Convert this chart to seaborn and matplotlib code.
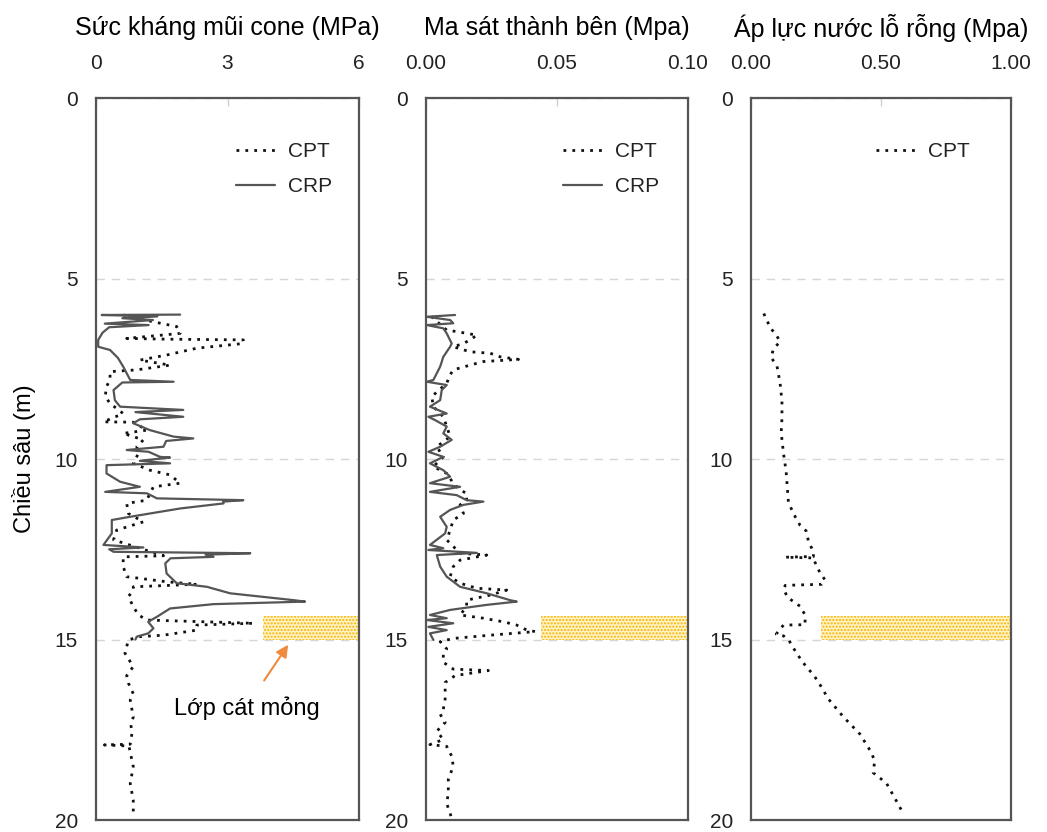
import numpy as np
import pandas as pd
import matplotlib
matplotlib.use("Agg")
import matplotlib.pyplot as plt
import seaborn as sns

# ---------------- data ----------------
# Panel 1: cone tip resistance (MPa) vs depth (m)
crp_qc_depth = [6.00, 6.01, 6.05, 6.10, 6.15, 6.25, 6.29, 6.35, 6.50, 6.70, 6.89, 6.98, 7.20, 7.44,
                7.81, 7.86, 7.88, 8.09, 8.37, 8.55, 8.64, 8.70, 8.83, 8.90, 9.01, 9.20, 9.38, 9.43,
                9.50, 9.66, 9.75, 9.80, 9.94, 9.96, 10.05, 10.12, 10.17, 10.40, 10.63, 10.77, 10.91,
                10.95, 11.09, 11.14, 11.18, 11.23, 11.37, 11.60, 11.69, 12.06, 12.38, 12.45, 12.50,
                12.57, 12.61, 12.65, 12.71, 12.75, 12.89, 13.17, 13.44, 13.54, 13.72, 13.91, 13.95,
                14.02, 14.14, 14.37, 14.51, 14.69, 14.83, 14.92, 15.00]
crp_qc = [1.92, 0.13, 1.40, 0.60, 1.30, 0.20, 1.20, 0.30, 0.15, 0.05, 0.05, 0.32, 0.50, 0.62,
          0.78, 1.77, 0.60, 0.40, 0.43, 0.55, 1.99, 0.90, 1.99, 1.00, 0.85, 1.23, 1.77, 2.22,
          1.60, 1.54, 0.70, 1.20, 1.46, 1.69, 1.00, 1.69, 0.24, 0.24, 0.55, 1.00, 0.21,
          1.16, 1.39, 3.36, 2.90, 2.91, 1.92, 0.78, 0.36, 0.36, 0.17, 1.08, 0.30,
          0.40, 3.52, 2.50, 2.68, 1.70, 1.58, 1.61, 1.84, 2.53, 3.06, 4.51, 4.77,
          2.68, 1.69, 1.39, 1.19, 1.31, 1.19, 0.93, 0.90]

cpt_qc_depth = [6.01, 6.20, 6.33, 6.52, 6.66, 6.68, 6.70, 6.80, 6.93, 7.12, 7.26, 7.40, 7.53, 7.58,
                7.81, 7.99, 8.27, 8.46, 8.74, 8.97, 8.98, 9.20, 9.29, 9.47, 9.66, 9.84, 10.12,
                10.31, 10.44, 10.67, 10.77, 10.95, 11.14, 11.23, 11.51, 11.74, 11.97, 12.24, 12.68,
                12.71, 12.98, 13.26, 13.40, 13.47, 13.54, 13.63, 13.81, 14.09, 14.32, 14.46, 14.55,
                14.60, 14.74, 14.88, 14.92, 15.01, 15.38, 15.75, 16.00, 16.21, 16.50, 16.68, 17.14,
                17.40, 17.60, 17.90, 17.92, 17.95, 18.52, 18.99, 19.45, 19.82]
cpt_qc = [0.62, 1.31, 1.84, 1.92, 0.70, 1.61, 3.36, 3.36, 2.30, 1.61, 1.00, 1.69, 0.93, 0.32,
          0.32, 0.24, 0.21, 0.32, 0.62, 0.17, 0.85, 1.16, 0.62, 1.08, 0.93, 0.97, 0.85,
          1.23, 1.69, 1.92, 1.31, 1.23, 1.16, 0.70, 0.74, 1.08, 0.47, 0.40, 1.54,
          0.62, 0.62, 0.70, 1.61, 2.30, 0.85, 0.85, 0.74, 0.85, 0.97, 1.16, 3.59,
          2.30, 2.30, 1.54, 1.00, 0.74, 0.66, 0.85, 0.70, 0.74, 0.85, 0.78, 0.85,
          0.80, 0.82, 0.78, 0.19, 0.75, 0.85, 0.78, 0.85, 0.85]

# Panel 2: sleeve friction (MPa) vs depth (m)
crp_fs_depth = [6.01, 6.06, 6.15, 6.24, 6.29, 6.38, 6.52, 6.80, 6.89, 7.17, 7.44, 7.81, 7.86, 7.95,
                8.09, 8.37, 8.55, 8.74, 8.83, 8.92, 9.10, 9.29, 9.47, 9.66, 9.80, 9.94, 10.12,
                10.31, 10.49, 10.67, 10.77, 10.91, 11.00, 11.14, 11.18, 11.27, 11.41, 11.60, 11.88,
                12.06, 12.38, 12.47, 12.52, 12.60, 12.66, 12.98, 13.26, 13.54, 13.72, 13.91, 13.95,
                14.04, 14.18, 14.32, 14.41, 14.46, 14.55, 14.65, 14.74, 14.83, 15.01]
crp_fs = [0.0111, 0.0003, 0.0092, 0.0104, 0.0003, 0.0066, 0.0079, 0.0098, 0.0092, 0.0066, 0.0054,
          0.0028, 0.0003, 0.0079, 0.0060, 0.0054, 0.0015, 0.0079, 0.0009, 0.0034, 0.0079, 0.0066,
          0.0098, 0.0054, 0.0009, 0.0066, 0.0015, 0.0066, 0.0092, 0.0015, 0.0130, 0.0015, 0.0117,
          0.0155, 0.0219, 0.0143, 0.0092, 0.0054, 0.0079, 0.0073, 0.0015, 0.0066, 0.0009, 0.0194,
          0.0041, 0.0054, 0.0079, 0.0130, 0.0232, 0.0321, 0.0346, 0.0232, 0.0092, 0.0015, 0.0079,
          0.0003, 0.0104, 0.0009, 0.0079, 0.0015, 0.0028]

cpt_fs_depth = [6.05, 6.43, 6.47, 6.57, 6.70, 6.80, 6.89, 7.03, 7.07, 7.17, 7.24, 7.30, 7.40, 7.53,
                7.67, 7.90, 8.27, 8.55, 8.83, 9.10, 9.38, 9.66, 9.94, 10.21, 10.40, 10.67, 10.86,
                10.95, 11.14, 11.27, 11.51, 11.69, 11.97, 12.24, 12.61, 12.66, 12.80, 12.98, 13.26,
                13.44, 13.58, 13.63, 13.77, 13.91, 14.09, 14.32, 14.41, 14.51, 14.60, 14.74, 14.78,
                14.88, 14.97, 15.06, 15.26, 15.40, 15.63, 15.82, 15.86, 16.00, 16.19, 16.65, 16.93,
                17.07, 17.30, 17.54, 17.77, 17.91, 17.96, 18.23, 18.51, 18.88, 19.26, 19.54, 19.95]
cpt_fs = [0.0020, 0.0079, 0.0117, 0.0194, 0.0168, 0.0143, 0.0104, 0.0168, 0.0245, 0.0283, 0.0353,
          0.0219, 0.0168, 0.0104, 0.0092, 0.0079, 0.0022, 0.0028, 0.0066, 0.0079, 0.0092, 0.0041,
          0.0066, 0.0028, 0.0079, 0.0104, 0.0130, 0.0155, 0.0155, 0.0130, 0.0143, 0.0104, 0.0092,
          0.0079, 0.0130, 0.0232, 0.0130, 0.0104, 0.0092, 0.0130, 0.0194, 0.0308, 0.0245, 0.0155,
          0.0155, 0.0130, 0.0219, 0.0296, 0.0346, 0.0385, 0.0417, 0.0245, 0.0104, 0.0054, 0.0079,
          0.0066, 0.0066, 0.0104, 0.0238, 0.0111, 0.0073, 0.0073, 0.0066, 0.0054, 0.0073, 0.0041,
          0.0066, 0.0015, 0.0079, 0.0098, 0.0104, 0.0085, 0.0085, 0.0079, 0.0098]

# Panel 3: pore water pressure (MPa) vs depth (m)
cpt_u_depth = [5.97, 6.36, 6.60, 6.75, 6.94, 7.18, 7.43, 7.91, 8.40, 8.88, 9.27, 9.85, 10.34,
               10.83, 11.21, 11.60, 11.84, 11.99, 12.28, 12.57, 12.70, 12.72, 12.74, 12.86, 13.16,
               13.35, 13.47, 13.50, 13.59, 13.83, 14.08, 14.32, 14.59, 14.60, 14.71, 14.85, 14.90,
               15.00, 15.39, 15.78, 15.97, 16.26, 16.65, 17.14, 17.62, 18.06, 18.35, 18.69, 18.98,
               19.47, 19.81]
cpt_u = [0.049, 0.074, 0.100, 0.112, 0.087, 0.077, 0.100, 0.112, 0.119, 0.119, 0.116, 0.125, 0.135,
         0.140, 0.144, 0.170, 0.189, 0.212, 0.221, 0.240, 0.240, 0.132, 0.240, 0.246, 0.266,
         0.285, 0.272, 0.132, 0.125, 0.140, 0.189, 0.208, 0.208, 0.125, 0.112, 0.097, 0.125,
         0.144, 0.176, 0.215, 0.240, 0.266, 0.298, 0.355, 0.419, 0.457, 0.476, 0.470, 0.521,
         0.559, 0.585]

# Thin sand layer
sand_top = 14.35
sand_bottom = 15.0
sand_x_start = [3.8, 0.044, 0.27]

titles = ["Sức kháng mũi cone (MPa)", "Ma sát thành bên (Mpa)", "Áp lực nước lỗ rỗng (Mpa)"]
x_limits = [(0, 6), (0, 0.10), (0, 1.0)]
x_ticks = [[0, 3, 6], [0, 0.05, 0.10], [0, 0.5, 1.0]]
x_ticklabels = [["0", "3", "6"], ["0.00", "0.05", "0.10"], ["0.00", "0.50", "1.00"]]
y_ticks = [0, 5, 10, 15, 20]
y_label = "Chiều sâu (m)"
sand_label = "Lớp cát mỏng"

# ---------------- style ----------------
sns.set_theme(style="white")
plt.rcParams["font.family"] = ["Liberation Sans", "DejaVu Sans"]

fig = plt.figure(figsize=(10.47, 8.32), dpi=100)
axes_rects = [
    [0.0917, 0.0144, 0.2512, 0.8678],
    [0.4069, 0.0144, 0.2502, 0.8678],
    [0.7173, 0.0144, 0.2483, 0.8678],
]
axes = [fig.add_axes(r) for r in axes_rects]

cpt_style = dict(color="#111111", linewidth=2.0, linestyle=(0, (1, 2.2)))
crp_style = dict(color="#555555", linewidth=1.6, linestyle="-")

panels = [
    [(cpt_qc, cpt_qc_depth, "CPT", cpt_style), (crp_qc, crp_qc_depth, "CRP", crp_style)],
    [(cpt_fs, cpt_fs_depth, "CPT", cpt_style), (crp_fs, crp_fs_depth, "CRP", crp_style)],
    [(cpt_u, cpt_u_depth, "CPT", cpt_style)],
]

legend_anchor = [(0.50, 0.950), (0.49, 0.950), (0.45, 0.950)]

for i, ax in enumerate(axes):
    for xs, ds, lab, st in panels[i]:
        df = pd.DataFrame({"x": xs, "depth": ds})
        sns.lineplot(data=df, x="x", y="depth", sort=False, estimator=None,
                     ax=ax, label=lab, **st)
    # sand layer
    ax.fill_betweenx([sand_top, sand_bottom], sand_x_start[i], x_limits[i][1],
                     facecolor="#FFF2C4", edgecolor="#F5B400", hatch=".....", linewidth=0,
                     zorder=1)
    ax.set_xlim(*x_limits[i])
    ax.set_ylim(20, 0)
    ax.xaxis.set_ticks_position("top")
    ax.xaxis.set_label_position("top")
    ax.set_xticks(x_ticks[i])
    ax.set_xticklabels(x_ticklabels[i])
    ax.set_yticks(y_ticks)
    ax.set_yticklabels([str(t) for t in y_ticks])
    ax.tick_params(axis="x", which="both", direction="in", length=6, width=1,
                   color="#d0d0d0", pad=18, labelsize=15, labelcolor="#222222")
    ax.tick_params(axis="y", which="both", length=0, pad=13, labelsize=15,
                   labelcolor="#222222")
    ax.set_xlabel("")
    ax.set_ylabel("")
    ax.yaxis.grid(True, linestyle=(0, (6, 5)), color="#d6d6d6", linewidth=1.0)
    ax.xaxis.grid(False)
    ax.set_axisbelow(True)
    for sp in ax.spines.values():
        sp.set_color("#555555")
        sp.set_linewidth(1.6)
        sp.set_visible(True)
    ax.text(0.5, 1.097, titles[i], transform=ax.transAxes, ha="center", va="center",
            fontsize=18, color="black")
    leg = ax.legend(loc="upper left", bbox_to_anchor=legend_anchor[i], frameon=False,
                    fontsize=15, handlelength=1.9, handletextpad=0.6, labelspacing=0.75,
                    borderaxespad=0)
    for t in leg.get_texts():
        t.set_color("#222222")

axes[0].set_ylabel(y_label, fontsize=17, color="black")
axes[0].yaxis.set_label_coords(-0.23, 0.5)

# annotation of the thin sand layer
axes[0].annotate("", xy=(4.42, 15.08), xytext=(3.80, 16.20),
                 arrowprops=dict(arrowstyle="-|>", color="#F08A3C", lw=1.5,
                                 mutation_scale=18))
axes[0].text(3.45, 16.9, sand_label, ha="center", va="center", fontsize=17, color="black")

fig.savefig("out.png", dpi=100)
